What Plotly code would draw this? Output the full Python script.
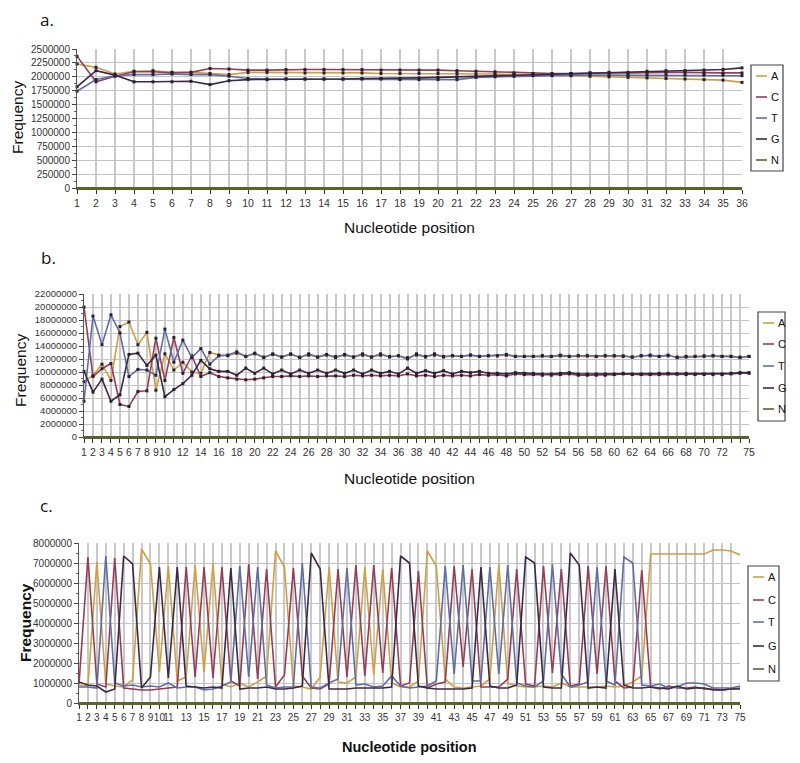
import plotly.graph_objects as go

# ---- data ----
bases = ["A", "C", "T", "G", "N"]
colors = {"A": "#cf9f45", "C": "#963e57", "T": "#5f6ea6", "G": "#3b2a47", "N": "#56652a"}

pos_a = list(range(1, 37))
pos_bc = list(range(1, 76))

a_A = [2230000, 2170000, 2050000, 2100000, 2110000, 2080000, 2080000, 2060000, 2040000, 2080000,
       2080000, 2070000, 2070000, 2070000, 2070000, 2070000, 2060000, 2060000, 2060000, 2060000,
       2060000, 2050000, 2050000, 2040000, 2040000, 2030000, 2020000, 2010000, 2000000, 1990000,
       1980000, 1970000, 1960000, 1950000, 1940000, 1900000]
a_C = [2370000, 1910000, 2010000, 2090000, 2090000, 2070000, 2080000, 2150000, 2140000, 2120000,
       2120000, 2130000, 2130000, 2130000, 2130000, 2130000, 2120000, 2120000, 2120000, 2120000,
       2110000, 2100000, 2090000, 2070000, 2060000, 2060000, 2060000, 2070000, 2070000, 2070000,
       2080000, 2080000, 2080000, 2070000, 2070000, 2070000]
a_T = [1740000, 1950000, 2020000, 2040000, 2040000, 2050000, 2040000, 2040000, 2010000, 1970000,
       1960000, 1960000, 1960000, 1960000, 1960000, 1960000, 1960000, 1950000, 1950000, 1950000,
       1950000, 1990000, 2000000, 2010000, 2020000, 2020000, 2030000, 2030000, 2030000, 2030000,
       2030000, 2030000, 2030000, 2030000, 2030000, 2020000]
a_G = [1820000, 2110000, 2030000, 1910000, 1910000, 1910000, 1920000, 1860000, 1930000, 1950000,
       1950000, 1960000, 1960000, 1960000, 1960000, 1970000, 1970000, 1970000, 1980000, 1990000,
       2000000, 2010000, 2020000, 2030000, 2040000, 2040000, 2060000, 2070000, 2080000, 2080000,
       2100000, 2110000, 2110000, 2120000, 2130000, 2160000]
a_N = [0, 0, 0, 0, 0, 0, 0, 0, 0, 0, 0, 0, 0, 0, 0, 0, 0, 0,
       0, 0, 0, 0, 0, 0, 0, 0, 0, 0, 0, 0, 0, 0, 0, 0, 0, 0]

b_A = [8500000, 9500000, 11200000, 8700000, 17000000, 17700000, 14200000, 16100000, 7200000, 12800000,
       10300000, 11500000, 10000000, 9800000, 13000000, 12600000, 12500000, 12900000, 12400000, 12800000,
       12300000, 12700000, 12300000, 12700000, 12300000, 12600000, 12300000, 12600000, 12400000, 12600000,
       12300000, 12600000, 12300000, 12600000, 12400000, 12500000, 12200000, 12600000, 12400000, 12600000,
       12400000, 12500000, 12400000, 12600000, 12400000, 12500000, 12500000, 12600000, 12400000, 12400000,
       12400000, 12500000, 12400000, 12500000, 12400000, 12500000, 12500000, 12400000, 12500000, 12500000,
       12400000, 12300000, 12500000, 12500000, 12400000, 12500000, 12300000, 12400000, 12400000, 12500000,
       12500000, 12400000, 12400000, 12300000, 12400000]
b_C = [20000000, 9300000, 10500000, 11300000, 5000000, 4700000, 7000000, 7100000, 15200000, 8700000,
       15300000, 9800000, 12500000, 9300000, 9900000, 9300000, 9100000, 8900000, 8800000, 8900000,
       9100000, 9300000, 9300000, 9400000, 9300000, 9400000, 9300000, 9400000, 9400000, 9300000,
       9500000, 9400000, 9500000, 9400000, 9500000, 9400000, 9700000, 9400000, 9500000, 9300000,
       9500000, 9400000, 9500000, 9400000, 9600000, 9500000, 9600000, 9400000, 9700000, 9600000,
       9600000, 9500000, 9500000, 9600000, 9700000, 9500000, 9500000, 9500000, 9500000, 9600000,
       9700000, 9600000, 9600000, 9600000, 9600000, 9700000, 9700000, 9600000, 9600000, 9600000,
       9600000, 9600000, 9700000, 9800000, 9800000]
b_T = [5500000, 18600000, 14200000, 18800000, 16000000, 9300000, 10400000, 10300000, 9500000, 16600000,
       11500000, 14900000, 12200000, 13600000, 11200000, 12500000, 12600000, 13100000, 12400000, 12900000,
       12200000, 12800000, 12300000, 12800000, 12200000, 12800000, 12300000, 12700000, 12200000, 12700000,
       12300000, 12800000, 12300000, 12800000, 12300000, 12500000, 12000000, 12800000, 12300000, 12800000,
       12300000, 12500000, 12400000, 12600000, 12400000, 12500000, 12500000, 12700000, 12400000, 12400000,
       12400000, 12500000, 12400000, 12600000, 12400000, 12500000, 12500000, 12400000, 12500000, 12500000,
       12500000, 12300000, 12500000, 12600000, 12400000, 12600000, 12200000, 12300000, 12400000, 12400000,
       12500000, 12400000, 12400000, 12200000, 12400000]
b_G = [10100000, 6900000, 8900000, 5500000, 6500000, 12700000, 12900000, 11000000, 12600000, 6200000,
       7300000, 8200000, 9500000, 11800000, 10500000, 10100000, 10100000, 9500000, 10600000, 9800000,
       10600000, 9700000, 10300000, 9700000, 10300000, 9800000, 10300000, 9800000, 10300000, 9800000,
       10300000, 9700000, 10300000, 9800000, 10100000, 9700000, 10600000, 9800000, 10200000, 9800000,
       10200000, 9700000, 10100000, 9900000, 10100000, 9800000, 9800000, 9700000, 9900000, 9800000,
       9800000, 9700000, 9700000, 9800000, 9900000, 9700000, 9700000, 9700000, 9700000, 9700000,
       9800000, 9700000, 9700000, 9700000, 9800000, 9800000, 9700000, 9800000, 9700000, 9700000,
       9700000, 9700000, 9800000, 9900000, 9900000]
b_N = [0, 0, 0, 0, 0, 0, 0, 0, 0, 0, 0, 0, 0, 0, 0, 0, 0, 0, 0, 0, 0, 0, 0, 0, 0,
       0, 0, 0, 0, 0, 0, 0, 0, 0, 0, 0, 0, 0, 0, 0, 0, 0, 0, 0, 0, 0, 0, 0, 0, 0,
       0, 0, 0, 0, 0, 0, 0, 0, 0, 0, 0, 0, 0, 0, 0, 0, 0, 0, 0, 0, 0, 0, 0, 0, 0]

c_A = [900000, 850000, 7050000, 950000, 850000, 800000, 1150000, 7700000, 6950000, 1550000,
       6850000, 1100000, 1300000, 6900000, 1550000, 7000000, 950000, 800000, 1000000, 800000,
       1050000, 1350000, 7600000, 6800000, 850000, 800000, 700000, 1300000, 6800000, 1050000,
       1000000, 1300000, 6800000, 1400000, 6700000, 1000000, 800000, 800000, 1100000, 7600000,
       6850000, 1200000, 800000, 750000, 800000, 850000, 1200000, 6950000, 1000000, 850000,
       800000, 800000, 850000, 800000, 1000000, 800000, 800000, 800000, 800000, 850000,
       800000, 850000, 1050000, 1350000, 7450000, 7450000, 7450000, 7450000, 7450000, 7450000,
       7450000, 7650000, 7650000, 7600000, 7400000]
c_C = [950000, 7300000, 950000, 800000, 7250000, 750000, 700000, 650000, 650000, 700000,
       750000, 800000, 6800000, 1300000, 6800000, 1250000, 6800000, 1100000, 850000, 6950000,
       1200000, 6700000, 800000, 1400000, 6750000, 1350000, 750000, 700000, 950000, 6700000,
       1300000, 6900000, 1350000, 6900000, 1500000, 6750000, 850000, 1000000, 6600000, 750000,
       950000, 1050000, 6850000, 1800000, 6700000, 800000, 800000, 800000, 1200000, 6700000,
       950000, 850000, 6850000, 1500000, 6700000, 850000, 950000, 6850000, 1450000, 6850000,
       1100000, 750000, 800000, 6650000, 800000, 700000, 850000, 750000, 750000, 800000,
       700000, 700000, 650000, 700000, 750000]
c_T = [800000, 800000, 750000, 7350000, 1000000, 850000, 900000, 800000, 850000, 800000,
       1000000, 750000, 800000, 800000, 650000, 700000, 850000, 1050000, 6850000, 1300000,
       6800000, 900000, 750000, 800000, 800000, 7000000, 800000, 750000, 1000000, 1200000,
       6750000, 900000, 950000, 800000, 850000, 1350000, 850000, 750000, 800000, 850000,
       1100000, 6850000, 1450000, 6900000, 1100000, 1100000, 6800000, 1450000, 6900000, 1000000,
       850000, 800000, 1100000, 6950000, 1450000, 800000, 900000, 1050000, 6800000, 1100000,
       900000, 7300000, 7000000, 900000, 850000, 950000, 750000, 800000, 1000000, 1000000,
       950000, 750000, 750000, 750000, 850000]
c_G = [1050000, 900000, 850000, 550000, 700000, 7350000, 6950000, 750000, 1300000, 6800000,
       1250000, 6800000, 850000, 800000, 750000, 800000, 750000, 6750000, 700000, 750000,
       750000, 800000, 700000, 700000, 750000, 850000, 7500000, 6700000, 700000, 700000,
       700000, 750000, 750000, 750000, 750000, 800000, 7350000, 7000000, 850000, 750000,
       700000, 700000, 700000, 700000, 750000, 6800000, 850000, 750000, 750000, 900000,
       7300000, 7000000, 800000, 750000, 750000, 7500000, 6900000, 750000, 800000, 750000,
       6700000, 900000, 750000, 750000, 800000, 750000, 700000, 850000, 700000, 750000,
       750000, 650000, 650000, 700000, 700000]
c_N = b_N

labels_a = pos_a
labels_b = list(range(1, 11)) + list(range(12, 73, 2)) + [75]
labels_c = list(range(1, 12)) + list(range(13, 76, 2))

# ---- layout helpers (pixel boxes) ----
W, H = 800, 763
OFF = 8  # the page body adds an 8px margin round the figure
FONT = "Arial, Liberation Sans, sans-serif"


def px(x):
    return (x - OFF) / W


def py(y):
    return 1 - (y - OFF) / H


panels = [
    dict(tag="a.", x=pos_a, ys=[a_A, a_C, a_T, a_G, a_N], labels=labels_a,
         box=(77, 742, 49, 188), ymax=2500000, dtick=250000, markers=True,
         tagpos=(47, 19), freq=(18, 118), nuc=(410, 228), bold=False, xfont=10.5,
         legend=(751, 783, 65, 171), legy=[76, 97, 118, 139, 160]),
    dict(tag="b.", x=pos_bc, ys=[b_A, b_C, b_T, b_G, b_N], labels=labels_b,
         box=(84, 749, 294, 437), ymax=22000000, dtick=2000000, markers=True,
         tagpos=(48, 258), freq=(20, 371), nuc=(410, 478), bold=False, xfont=10.5,
         legend=(758, 785, 312, 421), legy=[323, 344, 366, 388, 409]),
    dict(tag="c.", x=pos_bc, ys=[c_A, c_C, c_T, c_G, c_N], labels=labels_c,
         box=(79, 740, 543, 703), ymax=8000000, dtick=1000000, markers=False,
         tagpos=(46, 505), freq=(25, 623), nuc=(410, 747), bold=True, xfont=10,
         legend=(748, 779, 566, 681), legy=[577, 600, 622, 646, 669]),
]

fig = go.Figure()
shapes = []
annotations = []


def note(text, x, y, size, weight="normal", angle=0, xanchor="center", family=FONT):
    annotations.append(dict(
        text=text, x=px(x), y=py(y), xref="paper", yref="paper",
        xanchor=xanchor, yanchor="middle", showarrow=False, textangle=angle,
        font=dict(family=family, size=size, color="#111111", weight=weight)))


for i, p in enumerate(panels, start=1):
    xa = "x" if i == 1 else "x%d" % i
    ya = "y" if i == 1 else "y%d" % i
    for base, vals in zip(bases, p["ys"]):
        fig.add_trace(go.Scatter(
            x=p["x"], y=vals, xaxis=xa, yaxis=ya, name=base, showlegend=False,
            mode="lines+markers" if (p["markers"] and base != "N") else "lines",
            line=dict(color=colors[base], width=1.6 if base != "N" else 2),
            marker=dict(size=3, color="#2a1f2e", symbol="square"),
            cliponaxis=False,
        ))
    x0, x1, y0, y1 = p["box"]
    ticktext = [str(v) if v in p["labels"] else "" for v in p["x"]]
    fig.layout["xaxis" if i == 1 else "xaxis%d" % i] = dict(
        domain=[px(x0), px(x1)], anchor=ya, range=[1, p["x"][-1]], automargin=False,
        tickmode="array", tickvals=p["x"], ticktext=ticktext, tickangle=0,
        showgrid=True, gridcolor="#c9c9c9", gridwidth=1.5,
        showline=True, linecolor=colors["N"], linewidth=2,
        ticks="outside", ticklen=4, tickcolor="#333333", zeroline=False,
        tickfont=dict(family=FONT, size=p["xfont"], color="#333333"),
    )
    fig.layout["yaxis" if i == 1 else "yaxis%d" % i] = dict(
        domain=[py(y1), py(y0)], anchor=xa, range=[0, p["ymax"]], automargin=False,
        dtick=p["dtick"], tick0=0, tickformat="d",
        showgrid=True, gridcolor="#c4c4c4", gridwidth=1,
        showline=True, linecolor="#555555", linewidth=1, zeroline=False,
        ticks="outside", ticklen=4, tickcolor="#444444",
        minor=dict(dtick=p["dtick"] / 2, ticks="outside", ticklen=2,
                   tickcolor="#666666", showgrid=False),
        tickfont=dict(family=FONT, size=10 if i != 2 else 9.5, color="#333333"),
    )

    weight = "bold" if p["bold"] else "normal"
    note(p["tag"], p["tagpos"][0], p["tagpos"][1], 17, family="Open Sans")
    note("Frequency", p["freq"][0], p["freq"][1], 15.5, weight, angle=-90)
    note("Nucleotide position", p["nuc"][0], p["nuc"][1],
         14.5 if p["bold"] else 15.5, weight)

    # boxed legend
    lx0, lx1, ly0, ly1 = p["legend"]
    shapes.append(dict(type="rect", xref="paper", yref="paper",
                       x0=px(lx0), x1=px(lx1), y0=py(ly1), y1=py(ly0),
                       line=dict(color="#444444", width=1.2), fillcolor="white"))
    for base, ly in zip(bases, p["legy"]):
        shapes.append(dict(type="line", xref="paper", yref="paper",
                           x0=px(lx0 + 5), x1=px(lx0 + 16), y0=py(ly), y1=py(ly),
                           line=dict(color=colors[base], width=1.6)))
        note(base, lx0 + 18, ly, 11, xanchor="left")

fig.update_layout(
    width=W, height=H, margin=dict(l=0, r=0, t=0, b=0, pad=0),
    paper_bgcolor="white", plot_bgcolor="white",
    showlegend=False, shapes=shapes, annotations=annotations,
)

fig.write_html("out.html")
